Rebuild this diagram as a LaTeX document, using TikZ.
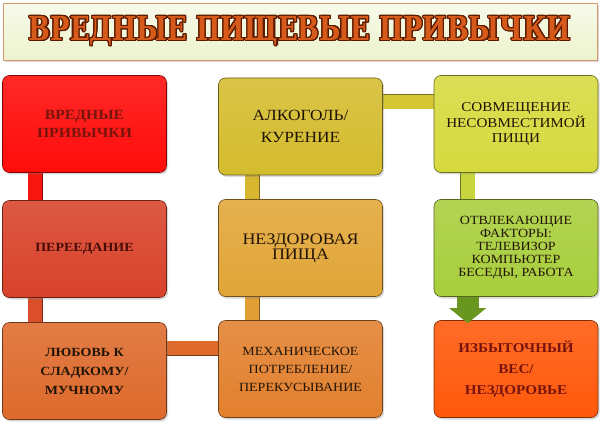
\documentclass[tikz,border=0pt]{standalone}
\usepackage{fontspec}
\setmainfont{Liberation Serif}[FakeStretch=1.12]
\newfontfamily\bannerfont{DejaVu Serif}[FakeStretch=0.78]
\usepackage{contour}
\contourlength{1.1pt}
\usetikzlibrary{arrows.meta,backgrounds,shadows}
\definecolor{hbBanner}{RGB}{236,243,204}
\definecolor{hbBannerEdge}{RGB}{210,154,108}
\definecolor{hbTitle}{RGB}{214,90,26}
\definecolor{hbTitleEdge}{RGB}{90,26,0}
\definecolor{hbRed}{RGB}{255,12,10}
\definecolor{hbTomato}{RGB}{216,66,42}
\definecolor{hbCarrot}{RGB}{222,106,44}
\definecolor{hbMustard}{RGB}{212,188,46}
\definecolor{hbGold}{RGB}{225,165,55}
\definecolor{hbOrange}{RGB}{226,128,46}
\definecolor{hbLemon}{RGB}{214,218,62}
\definecolor{hbLime}{RGB}{168,206,60}
\definecolor{hbFlame}{RGB}{255,88,10}
\definecolor{hbGreen}{RGB}{104,150,30}
\definecolor{hbInk}{RGB}{34,20,6}
\definecolor{hbMaroon}{RGB}{120,20,14}

\begin{document}
\begin{tikzpicture}[
    x=1pt, y=-1pt,
    habit/.style={rectangle, rounded corners=7pt, draw=#1!50!black, line width=0.6pt,
      top color=#1!88!white, bottom color=#1, minimum width=164pt, minimum height=97pt,
      align=center, inner sep=2pt, text=hbInk,
      drop shadow={shadow xshift=1.5pt, shadow yshift=-2pt, opacity=0.3}},
    link/.style={draw=#1!55!black, line width=0.6pt, double=#1, double distance=14pt,
      shorten <=-4pt, shorten >=-4pt},
    fat arrow/.style={draw=hbGreen, line width=22pt, -{Triangle[length=15pt,width=36pt]},
      shorten >=-3pt}
]
  \useasboundingbox (0,0) rectangle (600,425);

  % title
  \node[rectangle, draw=hbBannerEdge, line width=0.8pt, top color=hbBanner!40!white,
        bottom color=hbBanner, minimum width=594pt, minimum height=57pt,
        drop shadow={shadow xshift=1.5pt, shadow yshift=-2pt, opacity=0.3},
        text=hbTitle, font=\bannerfont\bfseries\fontsize{33}{33}\selectfont]
    (title) at (300,31.5) {\contour{hbTitleEdge}{ВРЕДНЫЕ ПИЩЕВЫЕ ПРИВЫЧКИ}};

  % left column
  \node[habit=hbRed, text=hbMaroon, font=\bfseries\fontsize{14}{18}\selectfont]
    (bad) at (84.5,124) {ВРЕДНЫЕ\\ПРИВЫЧКИ};
  \node[habit=hbTomato, text=hbMaroon!60!black, font=\bfseries\fontsize{12.5}{15}\selectfont]
    (overeat) at (84.5,249) {ПЕРЕЕДАНИЕ};
  \node[habit=hbCarrot, font=\bfseries\fontsize{12.5}{19}\selectfont]
    (sweets) at (84.5,371) {ЛЮБОВЬ К\\СЛАДКОМУ/\\МУЧНОМУ};

  % middle column
  \node[habit=hbMustard, font=\fontsize{15.5}{22}\selectfont]
    (alcohol) at (300.5,126.5) {АЛКОГОЛЬ/\\КУРЕНИЕ};
  \node[habit=hbGold, font=\fontsize{16}{15}\selectfont]
    (junk) at (300.5,248) {НЕЗДОРОВАЯ\\ПИЩА};
  \node[habit=hbOrange, font=\fontsize{12.5}{18}\selectfont]
    (snack) at (300.5,369) {МЕХАНИЧЕСКОЕ\\ПОТРЕБЛЕНИЕ/\\ПЕРЕКУСЫВАНИЕ};

  % right column
  \node[habit=hbLemon, font=\fontsize{13.5}{15.5}\selectfont]
    (combine) at (516,124) {СОВМЕЩЕНИЕ\\НЕСОВМЕСТИМОЙ\\ПИЩИ};
  \node[habit=hbLime, font=\fontsize{12.5}{13}\selectfont]
    (distract) at (516,248) {ОТВЛЕКАЮЩИЕ\\ФАКТОРЫ:\\ТЕЛЕВИЗОР\\КОМПЬЮТЕР\\БЕСЕДЫ, РАБОТА};
  \node[habit=hbFlame, text=hbMaroon, font=\bfseries\fontsize{13.5}{21}\selectfont]
    (weight) at (516,369) {ИЗБЫТОЧНЫЙ\\ВЕС/\\НЕЗДОРОВЬЕ};

  \begin{scope}[on background layer]
    \draw[link=hbRed!80!hbTomato] ([xshift=33pt]bad.south west) -- ([xshift=33pt]bad.south west |- overeat.north);
    \draw[link=hbTomato!70!hbCarrot] ([xshift=33pt]overeat.south west) -- ([xshift=33pt]overeat.south west |- sweets.north);
    \draw[link=hbCarrot] ([yshift=-26pt]sweets.north east) -- ([yshift=-26pt]sweets.north east -| snack.west);
    \draw[link=hbMustard!80!hbGold] ([xshift=34pt]alcohol.south west) -- ([xshift=34pt]alcohol.south west |- junk.north);
    \draw[link=hbGold!80!hbOrange] ([xshift=34pt]junk.south west) -- ([xshift=34pt]junk.south west |- snack.north);
    \draw[link=hbMustard!60!hbLemon] ([yshift=-24pt]alcohol.north east) -- ([yshift=-24pt]alcohol.north east -| combine.west);
    \draw[link=hbLemon!70!hbLime] ([xshift=34pt]combine.south west) -- ([xshift=34pt]combine.south west |- distract.north);
  \end{scope}

  \draw[fat arrow] ([xshift=34pt]distract.south west) -- ([xshift=34pt]distract.south west |- weight.north);
\end{tikzpicture}
\end{document}
